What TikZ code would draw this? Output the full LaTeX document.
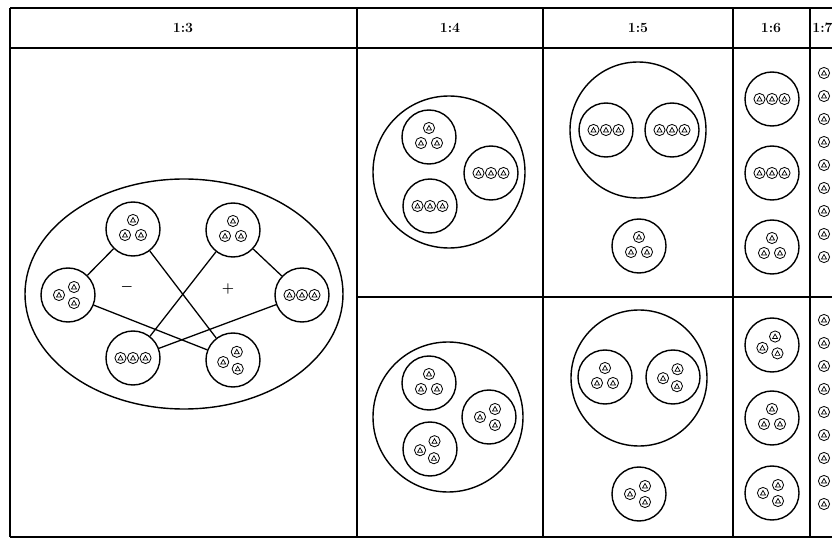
\documentclass[tikz,border=0pt]{standalone}
\usepackage{amsmath}
\usepackage{tikz}
\usetikzlibrary{positioning}

\tikzset{
    tab/.style={line width=1.4pt},
    grp/.style={circle, draw, line width=1.2pt, minimum size=1.62cm, inner sep=0pt},
    ring/.style={line width=1.2pt},
    hdr/.style={font=\bfseries\large},
    gl/.pic={
        \draw[line width=0.7pt] (0,0) circle[radius=5.6];
        \draw[line width=0.6pt] (-2.5,2) -- (0,-2.5) -- (2.5,2) -- cycle;
    },
    rowgrp/.pic={
        \pic at (-12.5,0) {gl};
        \pic at (0,0) {gl};
        \pic at (12.5,0) {gl};
    },
    trigrp/.pic={
        \pic at (0,-9) {gl};
        \pic at (-8,6) {gl};
        \pic at (8,6) {gl};
    }
}

\begin{document}
\begin{tikzpicture}[x=0.03cm, y=-0.03cm]
    \useasboundingbox (0,0) rectangle (832,540);

    % Table frame
    \draw[tab] (10,8) -- (832,8);
    \draw[tab] (10,48) -- (832,48);
    \draw[tab] (10,537) -- (832,537);
    \draw[tab] (357,297) -- (832,297);
    \foreach \xc in {10,357,543,733,810}
        \draw[tab] (\xc,8) -- (\xc,537);

    % Header
    \node[hdr] (h3) at (183,28) {1:3};
    \node[hdr] (h4) at (450,28) {1:4};
    \node[hdr] (h5) at (638,28) {1:5};
    \node[hdr] (h6) at (771,28) {1:6};
    \node[hdr, anchor=west, inner sep=1pt] (h7) at (811,28) {1:7};

    % 1:3 -- ellipse with six groups
    \draw[ring] (184,294) ellipse [x radius=159, y radius=115];
    \node[grp] (ta) at (133,229) {};
    \node[grp] (tb) at (233,230) {};
    \node[grp] (lc) at (68,295) {};
    \node[grp] (rd) at (302,295) {};
    \node[grp] (be) at (133,358) {};
    \node[grp] (bf) at (233,360) {};
    \pic at (ta) {trigrp};
    \pic at (tb) {trigrp};
    \pic[rotate=90] at (lc) {trigrp};
    \pic at (rd) {rowgrp};
    \pic at (be) {rowgrp};
    \pic[rotate=-25] at (bf) {trigrp};
    \draw[line width=1.1pt] (ta) -- (lc);
    \draw[line width=1.1pt] (ta) -- (bf);
    \draw[line width=1.1pt] (tb) -- (be);
    \draw[line width=1.1pt] (tb) -- (rd);
    \draw[line width=1.1pt] (lc) -- (bf);
    \draw[line width=1.1pt] (rd) -- (be);
    \node[font=\large] (minus) at (127,287) {$\boldsymbol{-}$};
    \node[font=\large] (plus) at (228,289) {$\boldsymbol{+}$};

    % 1:4
    \draw[ring] (449,172) circle[radius=76];
    \node[grp] (fa) at (429,137) {};
    \node[grp] (fb) at (491,173) {};
    \node[grp] (fc) at (430,206) {};
    \pic at (fa) {trigrp};
    \pic at (fb) {rowgrp};
    \pic at (fc) {rowgrp};
    \draw[ring] (448,417) circle[radius=75];
    \node[grp] (fd) at (429,383) {};
    \node[grp] (fe) at (489,417) {};
    \node[grp] (ff) at (430,449) {};
    \pic at (fd) {trigrp};
    \pic[rotate=90] at (fe) {trigrp};
    \pic[rotate=-30] at (ff) {trigrp};

    % 1:5
    \draw[ring] (638,130) circle[radius=68];
    \node[grp] (va) at (606,130) {};
    \node[grp] (vb) at (672,130) {};
    \node[grp] (vc) at (639,246) {};
    \pic at (va) {rowgrp};
    \pic at (vb) {rowgrp};
    \pic at (vc) {trigrp};
    \draw[ring] (639,378) circle[radius=68];
    \node[grp] (vd) at (605,377) {};
    \node[grp] (ve) at (673,377) {};
    \node[grp] (vf) at (639,494) {};
    \pic at (vd) {trigrp};
    \pic[rotate=-30] at (ve) {trigrp};
    \pic[rotate=90] at (vf) {trigrp};

    % 1:6
    \node[grp] (sa) at (772,99) {};
    \node[grp] (sb) at (772,173) {};
    \node[grp] (sc) at (772,247) {};
    \node[grp] (sd) at (772,345) {};
    \node[grp] (se) at (772,418) {};
    \node[grp] (sf) at (772,493) {};
    \pic at (sa) {rowgrp};
    \pic at (sb) {rowgrp};
    \pic at (sc) {trigrp};
    \pic[rotate=-20] at (sd) {trigrp};
    \pic at (se) {trigrp};
    \pic[rotate=90] at (sf) {trigrp};

    % 1:7 (single glyphs, cut at the edge)
    \foreach \i in {0,...,8} {
        \pic at (824,73+23*\i) {gl};
        \pic at (824,320+23*\i) {gl};
    }
\end{tikzpicture}
\end{document}
